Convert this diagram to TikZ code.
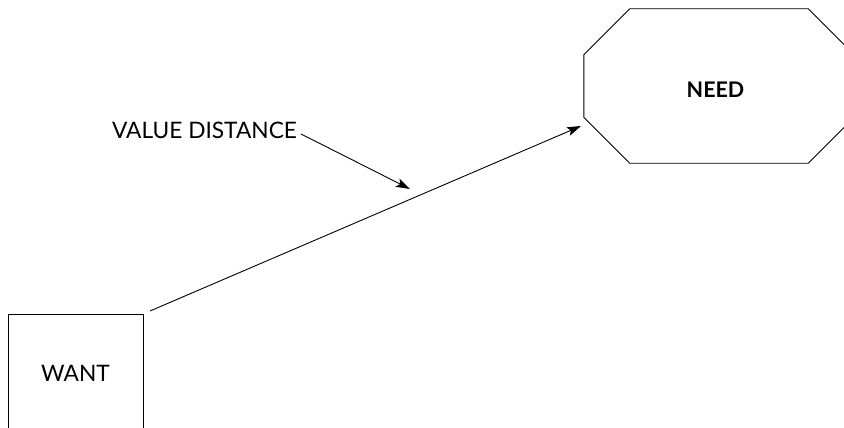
\documentclass[tikz,border=0pt]{standalone}
\usepackage{fontspec}
\setmainfont{Lato}
\usetikzlibrary{arrows.meta,calc}
\begin{document}
\begin{tikzpicture}[x=1pt,y=-1pt,
  outline/.style={draw=black,line width=0.9pt},
  lbl/.style={font=\fontsize{22.7}{27}\selectfont,inner sep=0pt},
  pointer/.style={line width=0.9pt,-{Stealth[length=14pt,width=9pt,inset=3pt]}}]
  \useasboundingbox (0,0) rectangle (844,428);
  \clip (0,0) rectangle (844,428);
  % WANT box (its lower edge runs past the page)
  \node[outline,minimum width=135pt,minimum height=118pt,inner sep=0pt,
        lbl] (want) at (75.5,373) {WANT};
  % NEED octagon: an invisible frame node, outlined with chamfered corners
  \node[minimum width=270pt,minimum height=154pt,inner sep=0pt] (need) at (719,86) {};
  \node[lbl,font=\fontsize{21.5}{26}\selectfont\bfseries] (needtxt) at (715.5,89.5) {NEED};
  \draw[outline]
    ($(need.north west)+(46,0)$) -- ($(need.north east)+(-46,0)$)
    -- ($(need.north east)+(0,46)$) -- ($(need.south east)+(0,-46)$)
    -- ($(need.south east)+(-46,0)$) -- ($(need.south west)+(46,0)$)
    -- ($(need.south west)+(0,-46)$) -- ($(need.north west)+(0,46)$) -- cycle;
  % label and its pointer
  \node[lbl] (vd) at (204.5,130) {VALUE DISTANCE};
  \coordinate (wantout) at (150,311);
  \coordinate (needin) at (581,126);
  \coordinate (vdout) at (301,134);
  \coordinate (vdtip) at (410,189);
  \draw[pointer] (wantout) -- (needin);
  \draw[pointer] (vdout) -- (vdtip);
\end{tikzpicture}
\end{document}
